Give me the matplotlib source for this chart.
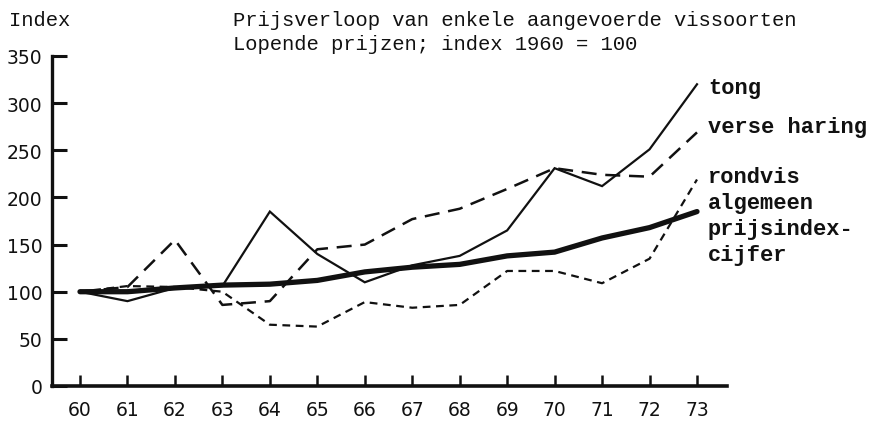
import matplotlib
matplotlib.use("Agg")
import matplotlib.pyplot as plt

years = [60, 61, 62, 63, 64, 65, 66, 67, 68, 69, 70, 71, 72, 73]
year_labels = [str(y) for y in years]
tong = [100, 90, 104, 106, 185, 140, 110, 128, 138, 165, 231, 212, 251, 320]
verse_haring = [100, 105, 155, 86, 90, 145, 150, 177, 188, 209, 231, 224, 222, 269]
rondvis = [100, 106, 105, 100, 65, 63, 89, 83, 86, 122, 122, 109, 135, 219]
algemeen = [100, 100, 104, 107, 108, 112, 121, 126, 129, 138, 142, 157, 168, 185]
yticks = [0, 50, 100, 150, 200, 250, 300, 350]

W, H = 872, 427
fig = plt.figure(figsize=(W / 100, H / 100), dpi=100)
ax = fig.add_axes([52 / W, 1 - 387 / H, (727 - 52) / W, 330 / H])

step = (697 - 80) / 13
x0 = 60 - (80 - 52) / step
x1 = 73 + (727 - 697) / step
ax.set_xlim(x0, x1)
ax.set_ylim(0, 350)

ink = "#111111"
ax.plot(years, tong, color=ink, lw=1.6, clip_on=False, solid_joinstyle="miter")
ax.plot(years, verse_haring, color=ink, lw=1.8, dashes=(6, 3.5), clip_on=False)
ax.plot(years, rondvis, color=ink, lw=1.6, dashes=(3.5, 2.5), clip_on=False)
ax.plot(years, algemeen, color=ink, lw=3.8, clip_on=False, solid_capstyle="round")

for s in ["top", "right"]:
    ax.spines[s].set_visible(False)
ax.spines["left"].set_linewidth(2.4)
ax.spines["bottom"].set_linewidth(2.6)
ax.spines["left"].set_color(ink)
ax.spines["bottom"].set_color(ink)

ax.set_xticks(years)
ax.set_xticklabels(year_labels)
ax.set_yticks(yticks)
ax.set_yticklabels([str(v) for v in yticks])
ax.tick_params(axis="y", direction="in", length=11, width=2.2, pad=7,
               labelsize=13.5, colors=ink)
ax.tick_params(axis="x", direction="in", length=8, width=1.8, pad=10,
               labelsize=13.5, colors=ink)

lab_font = dict(family="Liberation Mono", fontsize=15.8, fontweight="bold", color=ink)
ax.text(73.23, 317, "tong", va="center", ha="left", **lab_font)
ax.text(73.23, 275, "verse haring", va="center", ha="left", **lab_font)
ax.text(73.23, 222, "rondvis", va="center", ha="left", **lab_font)
ax.text(73.23, 195, "algemeen", va="center", ha="left", **lab_font)
ax.text(73.23, 167, "prijsindex-", va="center", ha="left", **lab_font)
ax.text(73.23, 140, "cijfer", va="center", ha="left", **lab_font)

title_font = dict(family="Liberation Mono", fontsize=14.8, color=ink)
fig.text(9 / W, 1 - 20 / H, "Index", va="center", ha="left", **title_font)
fig.text(233 / W, 1 - 21 / H, "Prijsverloop van enkele aangevoerde vissoorten",
         va="center", ha="left", **title_font)
fig.text(233 / W, 1 - 44 / H, "Lopende prijzen; index 1960 = 100",
         va="center", ha="left", **title_font)

fig.savefig("out.png", dpi=100, facecolor="white")
